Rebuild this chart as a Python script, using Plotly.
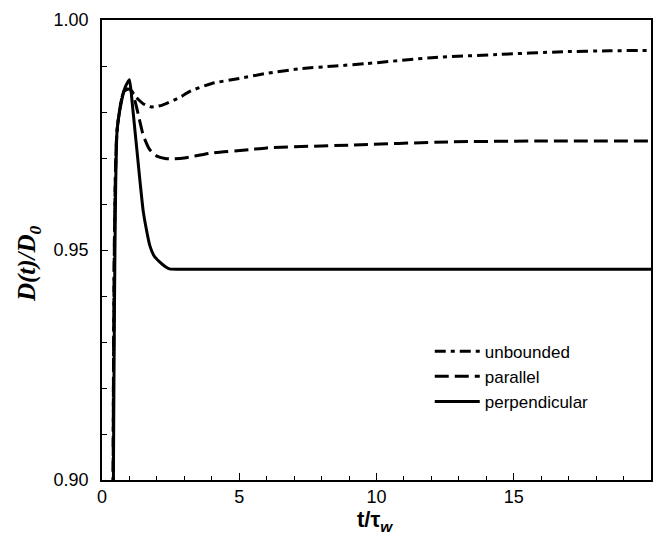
import plotly.graph_objects as go

# unbounded (dash-dot)
t_unb = [0.4, 0.55, 0.8, 1.0, 1.2, 1.5, 1.8, 2.2, 2.9, 3.2, 4.0, 5.0, 6.0, 7.2, 8.5, 9.6, 12.0, 14.4, 16.8, 18.5, 20.0]
d_unb = [0.88, 0.976, 0.9845, 0.9852, 0.9835, 0.9818, 0.9811, 0.9815, 0.9834, 0.9845, 0.9862, 0.9873, 0.9884,
         0.9894, 0.9900, 0.9905, 0.9918, 0.9925, 0.9931, 0.9933, 0.9934]

# parallel (dashed)
t_par = [0.4, 0.55, 0.8, 1.0, 1.15, 1.3, 1.5, 1.74, 2.0, 2.3, 2.6, 3.0, 4.0, 5.36, 6.0, 9.0, 12.6, 16.2, 20.0]
d_par = [0.88, 0.976, 0.9845, 0.985, 0.9835, 0.980, 0.975, 0.9718, 0.9704, 0.9699, 0.9698, 0.9700, 0.9711,
         0.9718, 0.9722, 0.9728, 0.9735, 0.9737, 0.9737]

# perpendicular (solid)
t_perp = [0.4, 0.55, 0.7, 0.85, 1.0, 1.1, 1.2, 1.3, 1.4, 1.5, 1.6, 1.74, 1.9, 2.1, 2.3, 2.46, 3.0, 20.0]
d_perp = [0.88, 0.976, 0.982, 0.9855, 0.987, 0.982, 0.976, 0.970, 0.964, 0.9585, 0.955, 0.951, 0.9487,
          0.9474, 0.9464, 0.9459, 0.9458, 0.9458]

x_ticks = [0, 5, 10, 15]
y_ticks = [0.90, 0.95, 1.00]
y_tick_labels = ["0.90", "0.95", "1.00"]

FONT = "Liberation Sans, Arial, sans-serif"

fig = go.Figure()
fig.add_trace(go.Scatter(x=t_unb, y=d_unb, mode="lines", name="unbounded", line_shape="spline",
                         line=dict(color="black", width=3, dash="11px,5px,4px,5px", smoothing=0.6)))
fig.add_trace(go.Scatter(x=t_par, y=d_par, mode="lines", name="parallel", line_shape="spline",
                         line=dict(color="black", width=3, dash="14px,6px", smoothing=0.6)))
fig.add_trace(go.Scatter(x=t_perp, y=d_perp, mode="lines", name="perpendicular", line_shape="spline",
                         line=dict(color="black", width=3, smoothing=0.5)))

fig.update_layout(
    width=663, height=535,
    margin=dict(l=102, r=10, t=16, b=55),
    paper_bgcolor="white", plot_bgcolor="white",
    font=dict(family=FONT, size=18, color="black"),
    showlegend=True,
    legend=dict(x=0.597, y=0.318, xanchor="left", yanchor="top",
                bgcolor="rgba(0,0,0,0)", borderwidth=0,
                font=dict(family=FONT, size=17, color="black"),
                itemwidth=45, tracegroupgap=0),
    xaxis=dict(range=[0, 20], tickvals=x_ticks, ticks="inside", ticklen=7, tickwidth=1.2,
               tickcolor="black", showline=True, linecolor="black", linewidth=1.5, mirror=True,
               showgrid=False, zeroline=False,
               minor=dict(dtick=1, ticks="inside", ticklen=4, tickcolor="black", showgrid=False),
               tickfont=dict(family=FONT, size=18)),
    yaxis=dict(range=[0.90, 1.00], tickvals=y_ticks, ticktext=y_tick_labels, ticks="inside",
               ticklen=6, tickwidth=1.2, tickcolor="black", showline=True, linecolor="black",
               linewidth=1.5, mirror=True, showgrid=False, zeroline=False,
               minor=dict(dtick=0.01, ticks="inside", ticklen=5, tickcolor="black", showgrid=False),
               tickfont=dict(family=FONT, size=18), ticklabelstandoff=8),
    annotations=[
        dict(text="<b><i>D(t)/D<sub>0</sub></i></b>", xref="paper", yref="paper",
             x=-0.1325, y=0.47, xanchor="center", yanchor="middle", textangle=-90, showarrow=False,
             font=dict(family="Liberation Serif, Times New Roman, serif", size=25, color="black")),
        dict(text="<b>t/τ<sub><i>w</i></sub></b>", xref="paper", yref="paper",
             x=0.497, y=-0.09, xanchor="center", yanchor="middle", showarrow=False,
             font=dict(family=FONT, size=22, color="black")),
    ],
)

fig.write_html("out.html")
